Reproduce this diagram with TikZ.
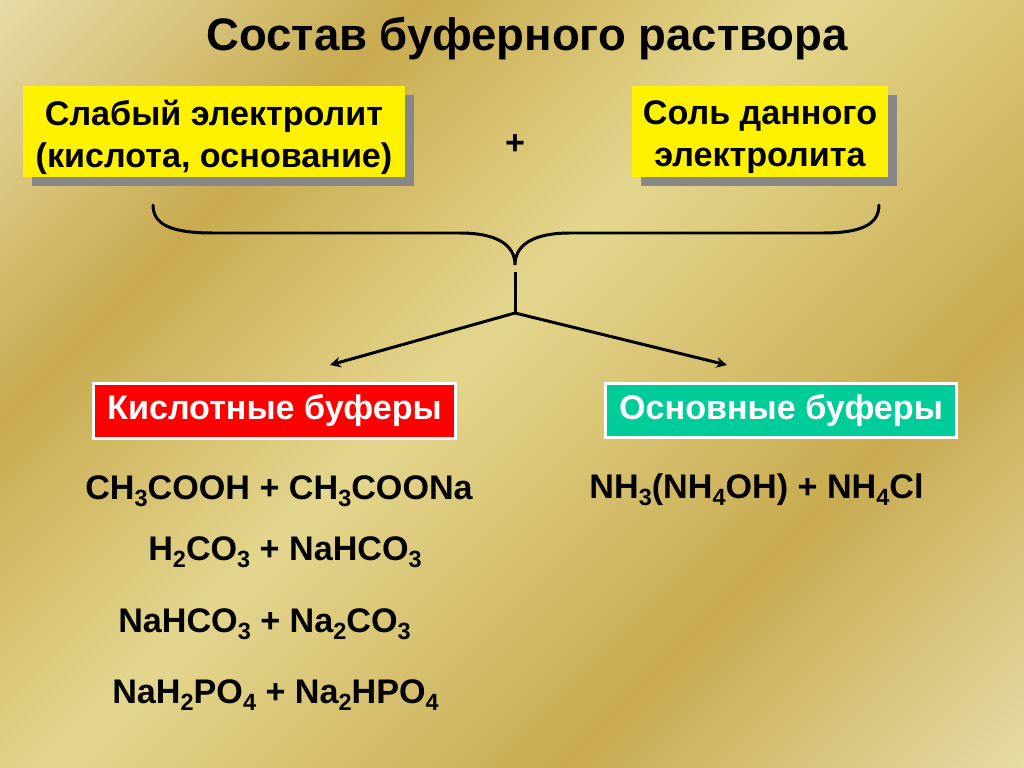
\documentclass[tikz,border=0pt]{standalone}
\usepackage{fontspec}
\setmainfont{Liberation Sans}
\usetikzlibrary{arrows.meta,shadows}
\definecolor{gl}{HTML}{E6DBA6}
\definecolor{gd}{HTML}{C8AB50}
\definecolor{gm}{HTML}{E4D68E}
\definecolor{basegreen}{HTML}{00CC99}
\definecolor{shadowgray}{HTML}{878787}
\pgfdeclarehorizontalshading{goldbg}{920bp}{color(0bp)=(gl); color(16bp)=(gl); color(224bp)=(gd); color(422bp)=(gm); color(675bp)=(gd); color(904bp)=(gl); color(920bp)=(gl)}
\newcommand{\chs}[1]{\raisebox{-5.6pt}{\fontsize{16.5}{16.5}\selectfont #1}}
\begin{document}
\begin{tikzpicture}[x=0.703125pt,y=-0.703125pt,
  ybox/.style={fill=yellow, draw=none, inner sep=0pt,
    drop shadow={shadow xshift=6.3pt, shadow yshift=-6.3pt, fill=shadowgray, opacity=1}},
  yboxtext/.style={align=center, inner sep=0pt,
    font=\fontsize{24}{29.6}\selectfont\bfseries},
  catbox/.style={draw=white, line width=2.1pt, inner sep=0pt, text=white,
    font=\fontsize{24}{28.8}\selectfont\bfseries},
  formula/.style={anchor=base, inner sep=0pt, font=\fontsize{24}{28.8}\selectfont\bfseries},
  conn/.style={line width=2.1pt, draw=black},
  arr/.style={conn, -{Stealth[length=7.5pt,width=7.5pt]}}
]
\useasboundingbox (0,0) rectangle (1024,768);
\begin{scope}
  \clip (0,0) rectangle (1024,768);
  \node[inner sep=0pt, rotate=-45] (bg) at (512,384) {\pgfuseshading{goldbg}};
\end{scope}

\node[anchor=base, inner sep=0pt, font=\fontsize{32}{38}\selectfont\bfseries] (title) at (527,51) {Состав буферного раствора};

\node[ybox, minimum width=268.6pt, minimum height=64pt] (weak) at (214,131.5) {};
\node[yboxtext] (weaktext) at (214,137) {Слабый электролит\\(кислота, основание)};
\node[ybox, minimum width=180pt, minimum height=64pt] (salt) at (760,131.5) {};
\node[yboxtext] (salttext) at (760,137) {Соль данного\\электролита};
\node[inner sep=0pt, font=\fontsize{24}{28.8}\selectfont\bfseries] (plus) at (515,144) {+};

\coordinate (bl) at (153,205);
\coordinate (br) at (879,205);
\coordinate (cusp) at (515,265);
\draw[conn, line cap=round] (bl) .. controls (153,225) and (172,233) .. (213,233) -- (460,233)
  .. controls (497,233) and (515,245) .. (cusp)
  .. controls (515,245) and (533,233) .. (570,233) -- (823,233)
  .. controls (860,233) and (879,225) .. (br);

\coordinate (stemtop) at (515,272);
\coordinate (fork) at (515,313);
\coordinate (tipL) at (330,365);
\coordinate (tipR) at (727,365);
\draw[conn] (stemtop) -- (fork);
\draw[arr] (fork) -- (tipL);
\draw[arr] (fork) -- (tipR);

\node[catbox, fill=red, minimum width=254.5pt, minimum height=38.7pt] (acid) at (274.5,411) {Кислотные буферы};
\node[catbox, fill=basegreen, minimum width=246.8pt, minimum height=38pt] (base) at (781,410.5) {Основные буферы};

\node[formula] (f1) at (279,499) {CH\chs{3}COOH + CH\chs{3}COONa};
\node[formula] (f2) at (285,560) {H\chs{2}CO\chs{3} + NaHCO\chs{3}};
\node[formula] (f3) at (264.5,632) {NaHCO\chs{3} + Na\chs{2}CO\chs{3}};
\node[formula] (f4) at (275.5,703) {NaH\chs{2}PO\chs{4} + Na\chs{2}HPO\chs{4}};
\node[formula] (f5) at (756.5,498) {NH\chs{3}(NH\chs{4}OH) + NH\chs{4}Cl};
\end{tikzpicture}
\end{document}
